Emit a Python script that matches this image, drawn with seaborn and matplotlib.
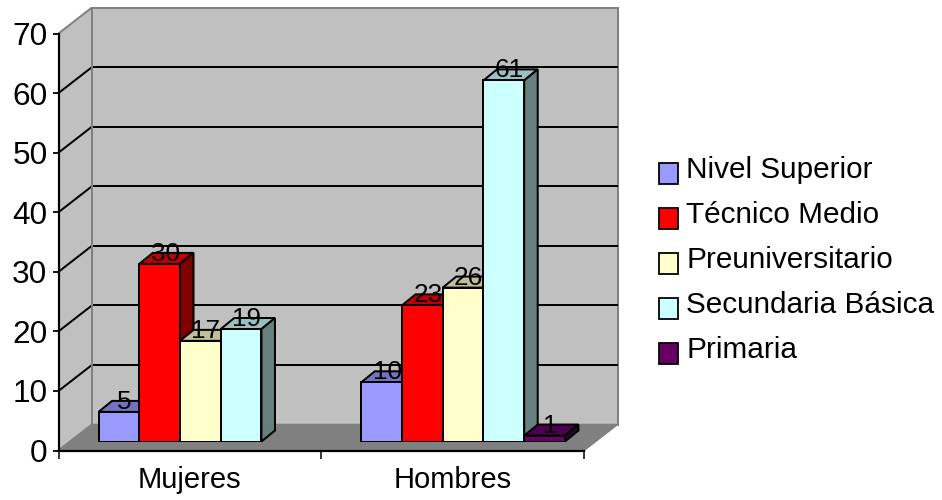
import matplotlib
matplotlib.use("Agg")
import matplotlib.pyplot as plt
from matplotlib.legend_handler import HandlerPatch
from matplotlib.patches import Patch, Polygon, Rectangle
import numpy as np
import pandas as pd
import seaborn as sns

groups = ["Mujeres", "Hombres"]
levels = ["Nivel Superior", "Técnico Medio", "Preuniversitario", "Secundaria Básica", "Primaria"]
mujeres = [5, 30, 17, 19, np.nan]
hombres = [10, 23, 26, 61, 1]
colors = ["#9999FF", "#FF0000", "#FFFFCC", "#CCFFFF", "#660066"]
y_ticks = [0, 10, 20, 30, 40, 50, 60, 70]

W, H = 942, 500
DPI = 100
PX = 72 / DPI
EDGE = "#808080"
WALL = "#C0C0C0"

sns.set_style("white")
plt.rcParams["font.family"] = ["Liberation Sans", "DejaVu Sans"]

df = pd.DataFrame({
    "grupo": np.repeat(groups, len(levels)),
    "nivel": levels * 2,
    "valor": mujeres + hombres,
})


def box(left, top, right, bottom):
    """Axes rectangle given in pixels from the top-left corner."""
    return [left / W, 1 - bottom / H, (right - left) / W, (bottom - top) / H]


def shade(hex_color, factor):
    return tuple(c * factor for c in matplotlib.colors.to_rgb(hex_color))


def swatch(legend, orig_handle, xdescent, ydescent, width, height, fontsize):
    """Legend key that hangs a little below the text baseline."""
    return Rectangle((0, -6 * PX), 19 * PX, 21 * PX)


fig = plt.figure(figsize=(W / DPI, H / DPI), dpi=DPI, facecolor="white")

# Front plane of the chart: carries the scales, ticks and the walls behind the bars
ax = fig.add_axes(box(58.5, 33.5, 584, 450.5), facecolor="none")
ax.set_xlim(-0.5, 1.5)
ax.set_ylim(0, 70)
px_x = 2 / (584 - 58.5)
px_y = 70 / (450.5 - 33.5)
wall_dx = 33.5 * px_x
wall_dy = 26 * px_y
x0, x1 = -0.5, 1.5
bx0, bx1 = x0 + wall_dx, x1 + wall_dx

ax.add_patch(Polygon([(x0, 0), (x0, 70), (bx0, 70 + wall_dy), (bx0, wall_dy)],
                     fc=WALL, ec="none", clip_on=False, zorder=0))
ax.add_patch(Polygon([(bx0, wall_dy), (bx0, 70 + wall_dy), (bx1, 70 + wall_dy), (bx1, wall_dy)],
                     fc=WALL, ec=EDGE, lw=2 * PX, clip_on=False, zorder=0.2))
ax.add_patch(Polygon([(x0, 0), (bx0, wall_dy), (bx1, wall_dy), (x1, 0)],
                     fc=EDGE, ec=EDGE, lw=1.5 * PX, clip_on=False, zorder=0.3))

for t in y_ticks:
    gridline = 0 < t < 70
    color = "black" if gridline else EDGE
    ax.plot([x0, bx0], [t, t + wall_dy], color=color, lw=2 * PX, clip_on=False,
            zorder=0.5, solid_capstyle="butt")
    if gridline:
        ax.plot([bx0, bx1], [t + wall_dy] * 2, color="black", lw=2 * PX, clip_on=False,
                zorder=0.5, solid_capstyle="butt")
ax.plot([bx0, bx0], [wall_dy, 70 + wall_dy], color=EDGE, lw=2 * PX, clip_on=False, zorder=0.6)

for side in ("top", "right"):
    ax.spines[side].set_visible(False)
for side in ("left", "bottom"):
    ax.spines[side].set_color("black")
    ax.spines[side].set_linewidth(2.2 * PX)
    ax.spines[side].set_zorder(1)

ax.set_yticks(y_ticks)
ax.tick_params(axis="y", which="major", left=True, length=6 * PX, width=1.8 * PX,
               labelsize=22.8, pad=5 * PX, colors="black")
ax.set_xticks([-0.5, 0.5, 1.5])
ax.set_xticklabels([])
ax.set_xticks([0, 1], labels=groups, minor=True)
ax.tick_params(axis="x", which="major", bottom=True, length=8 * PX, width=1.8 * PX)
ax.tick_params(axis="x", which="minor", bottom=False, labelsize=21, pad=13 * PX,
               colors="black")

# Bars stand on the floor, slightly behind the front plane
bar_ax = fig.add_axes(box(69, 441.5 - 70 * 5.92, 594.5, 441.5), facecolor="none")
sns.barplot(data=df, x="grupo", y="valor", hue="nivel", order=groups, hue_order=levels,
            palette=colors, saturation=1, width=0.775, gap=0, dodge=True, legend=False,
            edgecolor="black", linewidth=2 * PX, ax=bar_ax)
bar_ax.set_xlim(-0.5, 1.5)
bar_ax.set_ylim(0, 70)
bar_ax.axis("off")

dx = 13.5 * 2 / (594.5 - 69)
dy = 11 / 5.92
ordered = []
for container, color in zip(bar_ax.containers, colors):
    for rect in container:
        if np.isfinite(rect.get_height()) and rect.get_height() > 0:
            ordered.append((rect, color))
ordered.sort(key=lambda item: item[0].get_x())

for i, (rect, color) in enumerate(ordered):
    xl, xr = rect.get_x(), rect.get_x() + rect.get_width()
    h = rect.get_height()
    z = 2 + i
    rect.set_zorder(z + 0.5)
    bar_ax.add_patch(Polygon([(xl, h), (xl + dx, h + dy), (xr + dx, h + dy), (xr, h)],
                             fc=shade(color, 0.75), ec="black", lw=2 * PX,
                             clip_on=False, zorder=z))
    bar_ax.add_patch(Polygon([(xr, 0), (xr + dx, dy), (xr + dx, h + dy), (xr, h)],
                             fc=shade(color, 0.5), ec="black", lw=2 * PX,
                             clip_on=False, zorder=z))
    bar_ax.annotate(f"{h:.0f}", xy=((xl + xr) / 2, h), xytext=(5.5 * PX, 3 * PX),
                    textcoords="offset points", ha="center", va="baseline",
                    fontsize=18.8, color="black", zorder=50, annotation_clip=False)

handles = [Patch(facecolor=c, edgecolor="black", linewidth=1.8 * PX, label=l)
           for c, l in zip(colors, levels)]
fig.legend(handles=handles, loc="upper left", bbox_to_anchor=(659 / W, 1 - 156 / H),
           frameon=False, fontsize=21.4, borderpad=0, borderaxespad=0,
           handlelength=0.65, handletextpad=0.27, labelspacing=0.575,
           handler_map={Patch: HandlerPatch(patch_func=swatch)}, labelcolor="black")

fig.savefig("out.png", dpi=DPI)
